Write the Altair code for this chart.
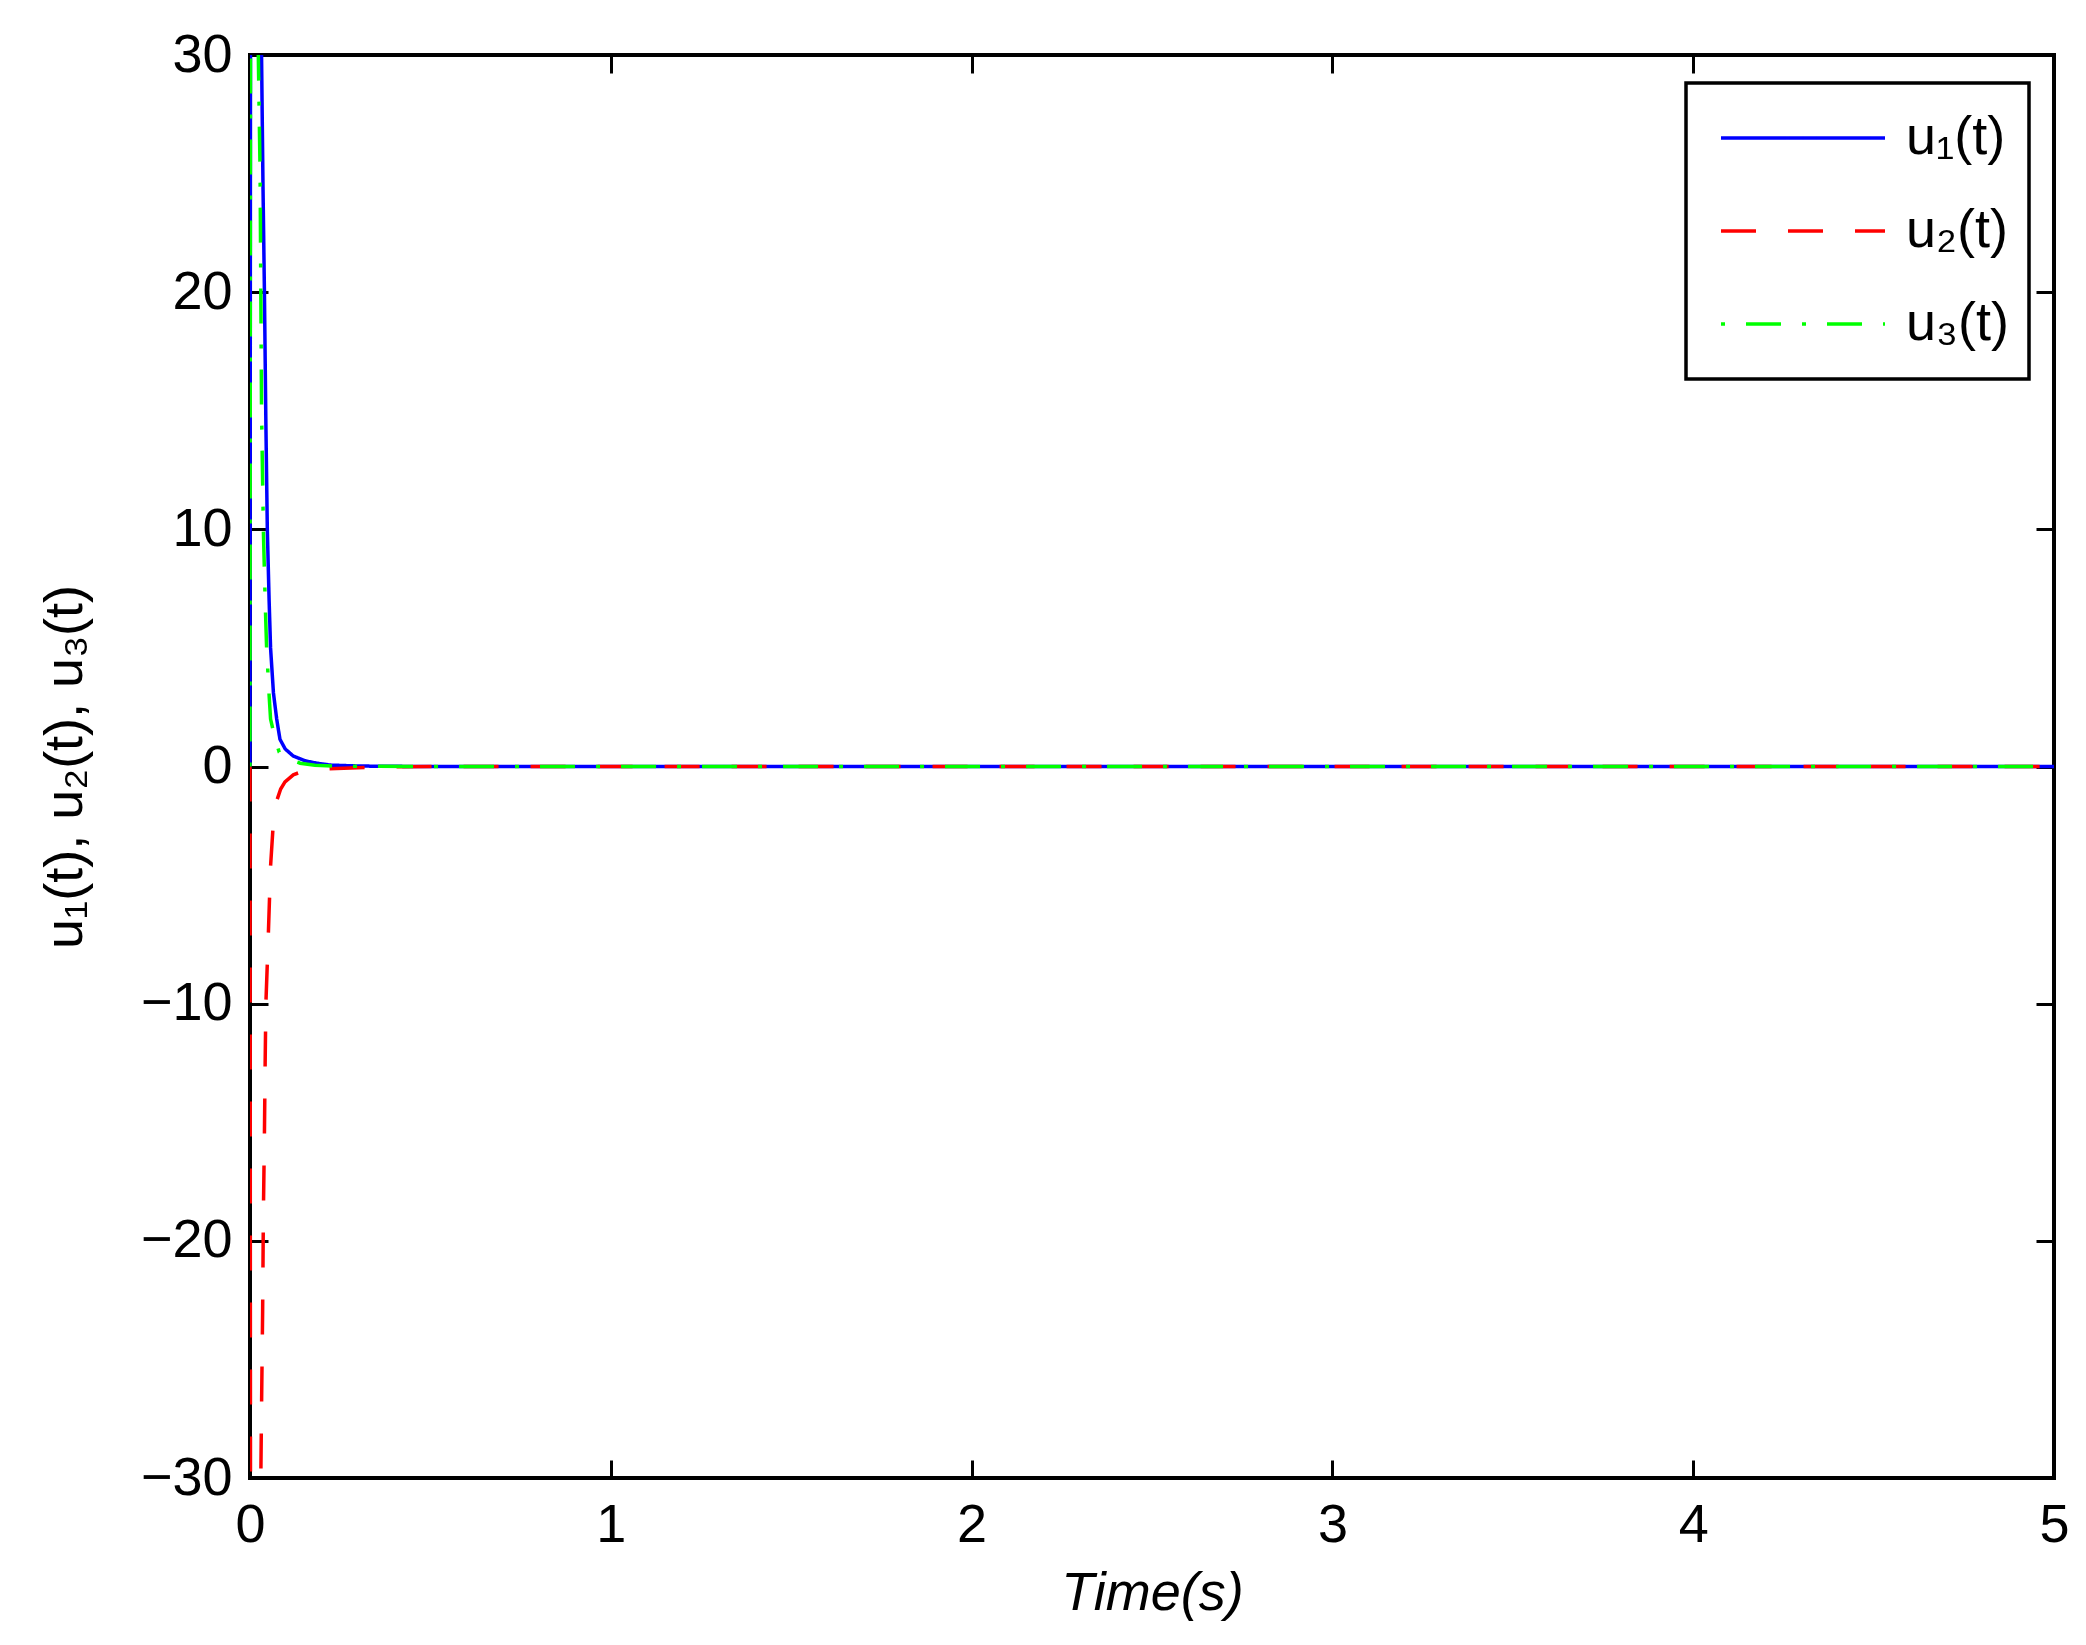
import altair as alt
import pandas as pd

# ---- data ----
names = ["u₁(t)", "u₂(t)", "u₃(t)"]

t_u1 = [0, 0.002, 0.006, 0.032, 0.036, 0.040, 0.044, 0.048, 0.053, 0.057, 0.065, 0.074,
        0.083, 0.0975, 0.12, 0.153, 0.185, 0.222, 0.28, 0.35, 0.5, 1, 2, 3, 4, 5]
v_u1 = [0, 45, 60, 30, 24.5, 20, 14.5, 10, 7, 5, 3.1, 2,
        1.15, 0.74, 0.44, 0.24, 0.14, 0.06, 0.03, 0.01, 0, 0, 0, 0, 0, 0]

t_u2 = [0, 0.002, 0.006, 0.030, 0.032, 0.035, 0.037, 0.040, 0.042, 0.044, 0.048, 0.051,
        0.057, 0.065, 0.075, 0.085, 0.097, 0.12, 0.15, 0.2, 0.26, 0.35, 0.5, 1, 2, 3, 4, 5]
v_u2 = [0, -45, -60, -30, -27, -23, -19, -15.5, -12.5, -10, -8.3, -7,
        -4.2, -2.3, -1.4, -0.95, -0.65, -0.35, -0.18, -0.1, -0.07, -0.02, 0, 0, 0, 0, 0, 0]

t_u3 = [0, 0.002, 0.006, 0.023, 0.028, 0.030, 0.032, 0.037, 0.042, 0.046, 0.053, 0.057,
        0.069, 0.081, 0.10, 0.139, 0.18, 0.25, 0.5, 1, 2, 3, 4, 5]
v_u3 = [0, 45, 55, 30, 25, 20, 15, 10, 7, 5, 3, 2,
        1.2, 0.6, 0.35, 0.14, 0.05, 0.01, 0, 0, 0, 0, 0, 0]

x_ticks = [0, 1, 2, 3, 4, 5]
y_ticks = [-30, -20, -10, 0, 10, 20, 30]

rows = []
for name, ts, vs in zip(names, [t_u1, t_u2, t_u3], [v_u1, v_u2, v_u3]):
    for t, v in zip(ts, vs):
        rows.append({"series": name, "t": t, "u": v})
df = pd.DataFrame(rows)

FONT = "Liberation Sans"
FS = 54
T = 18

x_scale = alt.Scale(domain=[0, 5], nice=False, zero=False)
y_scale = alt.Scale(domain=[-30, 30], nice=False, zero=False)

common_axis = dict(domain=False, grid=False, tickSize=T, offset=-T, tickWidth=3,
                   tickColor="black", labelColor="black", labelFont=FONT,
                   labelFontSize=FS, labelFlush=False, labelOverlap=False,
                   titleFont=FONT, titleFontSize=FS,
                   titleFontWeight="normal", titleColor="black")

lines = alt.Chart(df).mark_line(clip=True, strokeWidth=3.5).encode(
    x=alt.X("t:Q", scale=x_scale,
            axis=alt.Axis(orient="bottom", values=x_ticks, labelPadding=20,
                          title="Time(s)", titleFontStyle="italic", titlePadding=14,
                          **common_axis)),
    y=alt.Y("u:Q", scale=y_scale,
            axis=alt.Axis(orient="left", values=y_ticks, labelPadding=18,
                          title="u₁(t), u₂(t), u₃(t)", titlePadding=48,
                          **common_axis)),
    color=alt.Color("series:N",
                    scale=alt.Scale(domain=names, range=["#0000FF", "#FF0000", "#00FF00"]),
                    legend=alt.Legend(title=None, orient="none", legendX=1436, legendY=28,
                                      strokeColor="black", fillColor="white",
                                      padding=20, symbolOffset=13, cornerRadius=0,
                                      symbolType="stroke", symbolSize=26896,
                                      symbolStrokeWidth=3.5, labelFont=FONT,
                                      labelFontSize=FS, labelColor="black",
                                      labelOffset=19, rowPadding=23, clipHeight=70)),
    strokeDash=alt.StrokeDash("series:N",
                              scale=alt.Scale(domain=names,
                                              range=[[1, 0], [35, 32], [4, 21, 35, 21]]),
                              legend=None),
)

frame = alt.Chart(df).mark_line(opacity=0).encode(
    x=alt.X("t:Q", scale=x_scale,
            axis=alt.Axis(orient="top", values=x_ticks, labels=False, title=None,
                          **common_axis)),
    y=alt.Y("u:Q", scale=y_scale,
            axis=alt.Axis(orient="right", values=y_ticks, labels=False, title=None,
                          **common_axis)),
)

chart = alt.layer(lines, frame).resolve_axis(x="independent", y="independent").properties(
    width=1804, height=1423,
    autosize=alt.AutoSizeParams(type="none"),
    padding={"left": 242, "top": 47, "right": 20, "bottom": 150},
    background="white",
).configure_view(stroke="black", strokeWidth=4).configure_legend(strokeWidth=3.5)

chart.save("out.html", embed_options={"renderer": "svg", "actions": False})
